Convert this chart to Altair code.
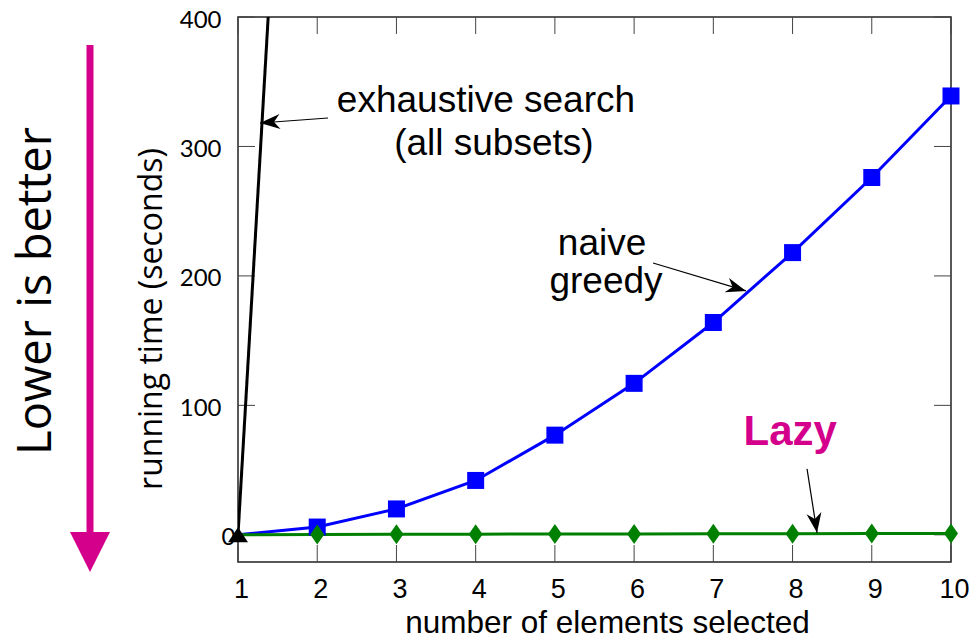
import math
import altair as alt
import pandas as pd

# ---------------- data ----------------
x_vals = [1, 2, 3, 4, 5, 6, 7, 8, 9, 10]
naive_greedy = [0, 6, 20, 42, 77, 117, 164, 218, 276, 339]
lazy_greedy = [0, 0.3, 0.4, 0.5, 0.6, 0.7, 0.8, 0.9, 1.0, 1.1]
exhaustive_x = [1, 2]
exhaustive_y = [0, 1050]

x_ticks = [1, 2, 3, 4, 5, 6, 7, 8, 9, 10]
y_ticks = [0, 100, 200, 300, 400]

label_text = ["exhaustive search", "(all subsets)", "naive", "greedy"]
label_x = [4.13, 4.23, 5.595, 5.645]
label_y = [326.6, 293.4, 216.2, 186.9]

lazy_text = ["Lazy"]
lazy_x = [7.97]
lazy_y = [69.5]

arrow_x1 = [2.136, 6.239, 8.183]
arrow_y1 = [322.0, 210.0, 51.0]
arrow_x2 = [1.278, 7.412, 8.309]
arrow_y2 = [318.1, 188.4, 1.5]

# ---------------- layout ----------------
W, H = 713, 545
XD = [1, 10]
YD = [-21, 400]
TICK = 17
MAGENTA = "#D4008C"

sx = W / (XD[1] - XD[0])
sy = H / (YD[1] - YD[0])
angles = []
for a, b, c, d in zip(arrow_x1, arrow_y1, arrow_x2, arrow_y2):
    dx = (c - a) * sx
    dy = -(d - b) * sy
    angles.append(math.degrees(math.atan2(dx, -dy)) % 360)

df_naive = pd.DataFrame({"x": x_vals, "y": naive_greedy})
df_lazy = pd.DataFrame({"x": x_vals, "y": lazy_greedy})
df_exh = pd.DataFrame({"x": exhaustive_x, "y": exhaustive_y})
df_xt = pd.DataFrame({"x": x_ticks})
df_yt = pd.DataFrame({"y": y_ticks})
df_lab = pd.DataFrame({"x": label_x, "y": label_y, "t": label_text})
df_lazy_lab = pd.DataFrame({"x": lazy_x, "y": lazy_y, "t": lazy_text})
df_arrow = pd.DataFrame({"x": arrow_x1, "y": arrow_y1, "x2": arrow_x2,
                         "y2": arrow_y2, "angle": angles})
df_one = pd.DataFrame({"k": [0]})

xscale = alt.Scale(domain=XD, nice=False, zero=False)
yscale = alt.Scale(domain=YD, nice=False, zero=False)

xaxis = alt.Axis(values=x_ticks, ticks=False, domain=False, grid=False,
                 labelFont="Liberation Sans", labelFontSize=27, labelColor="black",
                 labelPadding=14, labelOffset=3, labelFlush=False,
                 title="number of elements selected", titleFont="Liberation Sans",
                 titleFontSize=31.5, titleFontWeight="normal", titleColor="black",
                 titleX=369, titleY=70, titleAlign="center",
                 titleBaseline="alphabetic")
yaxis = alt.Axis(values=y_ticks, ticks=False, domain=False, grid=False,
                 labelFont="Lato", labelFontSize=24, labelColor="black",
                 labelPadding=17, labelFlush=False, labelOffset=3,
                 labelAlign={"condition": {"test": "datum.value === 0", "value": "left"},
                             "value": "right"},
                 title=None)

X = alt.X("x:Q", scale=xscale, axis=xaxis)
Y = alt.Y("y:Q", scale=yscale, axis=yaxis)

tick_color = "#444444"

bottom_ticks = alt.Chart(df_xt).mark_rule(color=tick_color, strokeWidth=1).encode(
    x=X, y=alt.value(H), y2=alt.value(H - TICK))
top_ticks = alt.Chart(df_xt).mark_rule(color=tick_color, strokeWidth=1).encode(
    x=X, y=alt.value(0), y2=alt.value(TICK))
left_ticks = alt.Chart(df_yt).mark_rule(color=tick_color, strokeWidth=1).encode(
    y=Y, x=alt.value(0), x2=alt.value(TICK))
right_ticks = alt.Chart(df_yt).mark_rule(color=tick_color, strokeWidth=1).encode(
    y=Y, x=alt.value(W), x2=alt.value(W - TICK))

naive_line = alt.Chart(df_naive).mark_line(color="#0000FF", strokeWidth=3).encode(x=X, y=Y)
naive_pts = alt.Chart(df_naive).transform_filter("datum.x >= 2").mark_point(
    shape="square", filled=True, size=289, color="#0000FF", opacity=1).encode(x=X, y=Y)

lazy_line = alt.Chart(df_lazy).mark_line(color="#008000", strokeWidth=3).encode(x=X, y=Y)
lazy_pts = alt.Chart(df_lazy).transform_filter("datum.x >= 2").mark_point(
    shape="M0,-1L0.7,0L0,1L-0.7,0Z", filled=True, size=400, color="#008000",
    opacity=1).encode(x=X, y=Y)

exh_line = alt.Chart(df_exh).mark_line(color="black", strokeWidth=3, clip=True).encode(x=X, y=Y)
exh_pt = alt.Chart(df_exh).transform_filter("datum.x == 1").mark_point(
    shape="M0,-0.75L1,0.75L-1,0.75Z", filled=True, size=400, color="black",
    opacity=1).encode(x=X, y=Y)

labels = alt.Chart(df_lab).mark_text(font="Liberation Sans", fontSize=37, color="black",
                                     align="center", baseline="alphabetic").encode(
    x=X, y=Y, text="t:N")
lazy_label = alt.Chart(df_lazy_lab).mark_text(font="Liberation Sans", fontSize=42,
                                              fontWeight="bold", color=MAGENTA,
                                              align="center", baseline="alphabetic").encode(
    x=X, y=Y, text="t:N")

arrow_lines = alt.Chart(df_arrow).mark_rule(color="black", strokeWidth=1.2).encode(
    x=X, y=Y, x2=alt.X2("x2:Q"), y2=alt.Y2("y2:Q"))
arrow_heads = alt.Chart(df_arrow).mark_point(
    shape="M0,0L-0.75,2L0,1.4L0.75,2Z", filled=True, size=400, color="black",
    opacity=1).encode(
    x=alt.X("x2:Q", scale=xscale, axis=xaxis), y=alt.Y("y2:Q", scale=yscale, axis=yaxis),
    angle=alt.Angle("angle:Q", scale=None))

# left side decorations (outside plot, pixel placement)
big_arrow_line = alt.Chart(df_one).mark_rule(color=MAGENTA, strokeWidth=7).encode(
    x=alt.value(-148), y=alt.value(28), y2=alt.value(518))
big_arrow_head = alt.Chart(df_one).mark_point(
    shape="M-1,-1L1,-1L0,1Z", filled=True, size=1600, color=MAGENTA, opacity=1).encode(
    x=alt.value(-148), y=alt.value(535))
lower_text = alt.Chart(df_one).mark_text(
    text="Lower is better", font="Open Sans", fontSize=47, color="black",
    angle=270, align="center", baseline="middle").encode(
    x=alt.value(-201), y=alt.value(274))
ytitle = alt.Chart(df_one).mark_text(
    text="running time (seconds)", font="Open Sans", fontSize=32, color="black",
    angle=270, align="center", baseline="middle").encode(
    x=alt.value(-86), y=alt.value(302))

chart = alt.layer(
    bottom_ticks, top_ticks, left_ticks, right_ticks,
    naive_line, lazy_line, naive_pts, lazy_pts, exh_line, exh_pt,
    labels, lazy_label, arrow_lines, arrow_heads,
    big_arrow_line, big_arrow_head, lower_text, ytitle,
).properties(
    width=W, height=H,
    autosize=alt.AutoSizeParams(type="none"),
    padding={"left": 230, "top": 9, "right": 19, "bottom": 71},
).configure_view(stroke="#222222", strokeWidth=1.5)

chart.save("out.html", embed_options={"renderer": "svg", "actions": False})
